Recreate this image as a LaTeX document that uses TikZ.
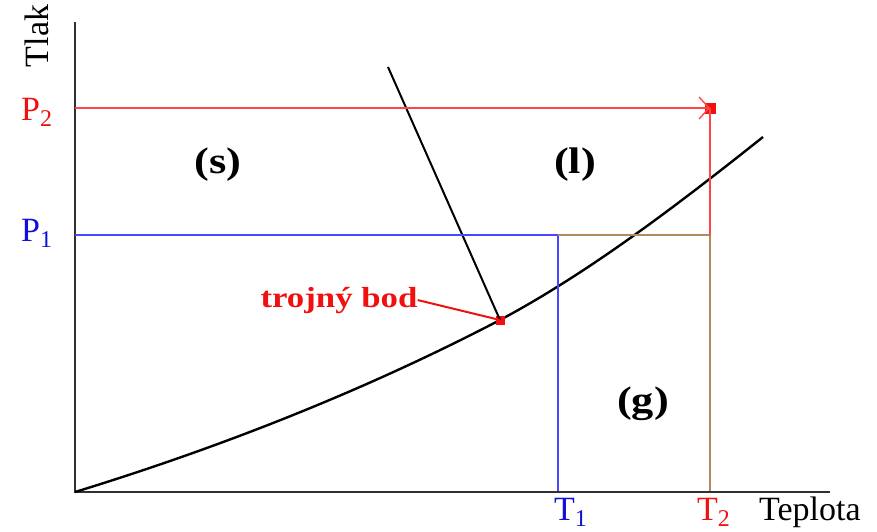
\documentclass[tikz,border=0pt]{standalone}
\usepackage{fontspec}
\setmainfont{Liberation Serif}
\usepackage{tikz}
\usetikzlibrary{arrows.meta, positioning, calc}
\definecolor{pdred}{HTML}{FF4545}
\definecolor{pdtxtred}{HTML}{F01010}
\definecolor{pdblue}{HTML}{4848FF}
\definecolor{pdtxtblue}{HTML}{1010D8}
\definecolor{pdbrown}{HTML}{B08A60}
\definecolor{pdaxis}{HTML}{303030}
\newcommand{\lab}[2]{#1\raisebox{-6pt}{\fontsize{24}{26}\selectfont #2}}

\begin{document}
\begin{tikzpicture}[x=1pt, y=-1pt,
          axis/.style={draw=pdaxis, line width=2.6pt},
          curve/.style={draw=black, line width=2.4pt},
          guide/.style={line width=1.4pt},
          tick/.style={font=\fontsize{34}{36}\selectfont, inner sep=0pt},
          phase/.style={font=\fontsize{37}{39}\selectfont\bfseries, inner sep=0pt, xscale=1.2},
          pt/.style={fill=pdtxtred, minimum size=9pt, inner sep=0pt}]
          \useasboundingbox (0,0) rectangle (877,531);
          % axes
          \coordinate (o) at (75,492);
          \coordinate (ytop) at (75,22);
          \coordinate (xend) at (830,492);
          \draw[axis] (ytop) -- (o) -- (xend);
          \node[tick, rotate=90] (tlak) at (37,36) {Tlak};
          \node[tick, anchor=base west] (teplota) at (759,520) {Teplota};
          % pressure and temperature marks
          \node[tick, text=pdtxtred, anchor=base west] (p2) at (21,120) {\lab{P}{2}};
          \node[tick, text=pdtxtblue, anchor=base west] (p1) at (21,241) {\lab{P}{1}};
          \node[tick, text=pdtxtblue, anchor=base west] (t1) at (554,520) {\lab{T}{1}};
          \node[tick, text=pdtxtred, anchor=base west] (t2) at (697,520) {\lab{T}{2}};
          \coordinate (a1) at (75,235);
          \coordinate (a2) at (75,108);
          \coordinate (c1) at (558,235);
          \coordinate (c2) at (710,235);
          \coordinate (b1) at (558,491);
          \coordinate (b2) at (710,491);
          \node[pt, minimum size=11pt] (end) at (710,108) {};
          % curves
          \coordinate (tb) at (500,320);
          \draw[curve] (o) .. controls (215,449) and (360,393) .. (tb)
                           .. controls (588,273) and (675,207) .. (763,137);
          \node[pt] (tbox) at (tb) {};
          \draw[curve, line width=2pt] (388,67) -- (tb);
          % guide lines
          \draw[guide, pdblue] (a1) -- (c1) -- (b1);
          \draw[guide, pdbrown] (c1) -- (c2) -- (b2);
          \draw[guide, pdred] (c2) -- (end.center);
          \draw[guide, pdred, -{Straight Barb[length=10pt, width=22pt]}] (a2) -- (end.center);
          % labels
          \node[phase] (s) at (218,165) {(s)};
          \node[phase] (l) at (575,165) {(l)};
          \node[phase] (g) at (643,404) {(g)};
          \node[font=\fontsize{29}{31}\selectfont\bfseries, text=pdtxtred, inner sep=0pt, xscale=1.2, anchor=base] (trojny) at (339,307) {trojný bod};
          \draw[pdtxtred, line width=2pt] (trojny.east) -- (tb);
        \end{tikzpicture}
\end{document}
